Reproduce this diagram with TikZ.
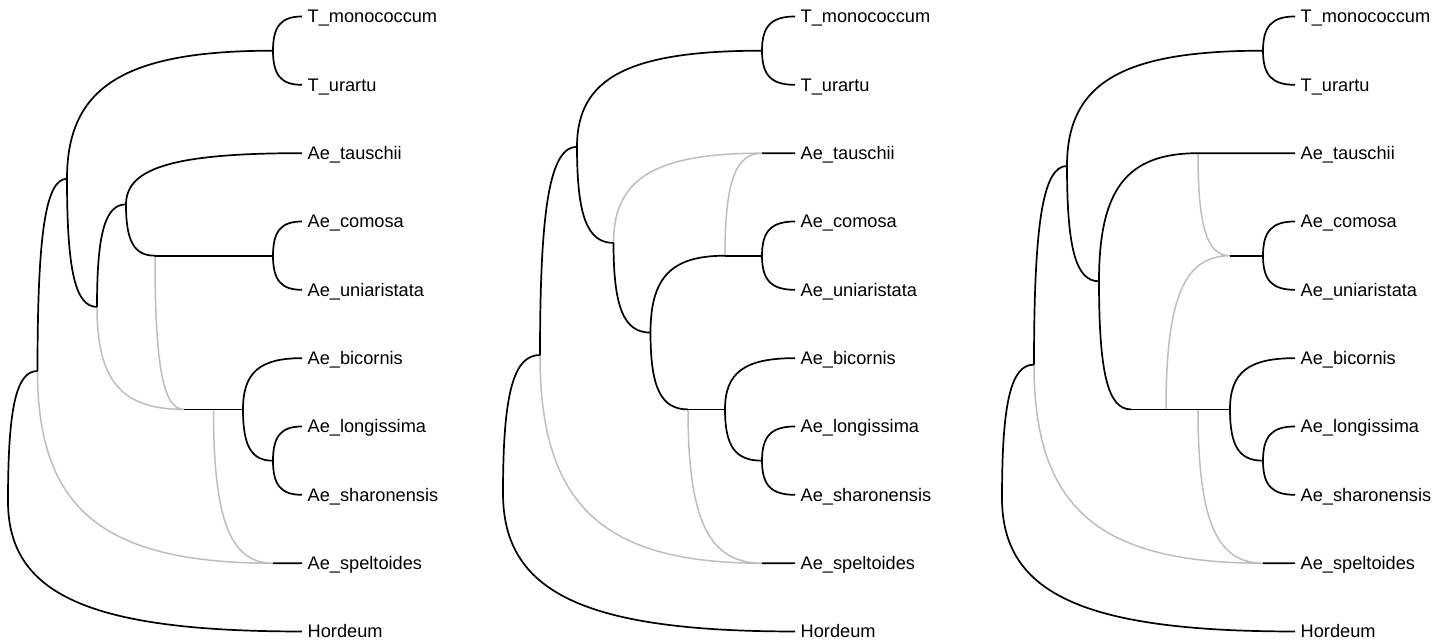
\documentclass[tikz,border=0pt]{standalone}
\usepackage{fontspec}
\setmainfont{Liberation Sans}
\usetikzlibrary{calc}
\definecolor{hybgray}{HTML}{BEBEBE}
\tikzset{
  curv/.style={to path={.. controls ($(\tikztostart)!0.72!(\tikztostart|-\tikztotarget)$) and ($(\tikztotarget)!0.72!(\tikztostart|-\tikztotarget)$) .. (\tikztotarget)}},
  treeedge/.style={draw=black, line width=1.7pt},
  hybedge/.style={draw=hybgray, line width=1.5pt},
  taxon/.style={anchor=base west, inner sep=0pt, xshift=5.5pt, yshift=-6.5pt, font=\fontsize{18.2}{20}\selectfont},
}
\begin{document}
\begin{tikzpicture}[x=1pt,y=-1pt]
\fill[white] (0,0) rectangle (1445,642);
\useasboundingbox (0,0) rectangle (1445,642);

% leaves and labels
\foreach \p/\tx in {1/302,2/795,3/1295}{
  \foreach \i/\nm in {0/T\_monococcum,1/T\_urartu,2/Ae\_tauschii,3/Ae\_comosa,4/Ae\_uniaristata,5/Ae\_bicornis,6/Ae\_longissima,7/Ae\_sharonensis,8/Ae\_speltoides,9/Hordeum}{
    \coordinate (l\p-\i) at (\tx,{16.5+68.33*\i});
    \node[taxon] (lab\p-\i) at (l\p-\i) {\nm};
  }
}

% ---------------- panel 1 ----------------
\coordinate (r1)  at (8,501.2);
\coordinate (n11) at (37.5,371);
\coordinate (n12) at (67,178.8);
\coordinate (n13) at (97,306.9);
\coordinate (n14) at (126,204.4);
\coordinate (p11) at (155,255.7);
\coordinate (h11) at (184,409.4);
\coordinate (p12) at (213.5,409.4);
\coordinate (d1)  at (243,409.4);
\coordinate (a1)  at (273,50.7);
\coordinate (b1)  at (273,255.7);
\coordinate (c1)  at (273,460.7);
\coordinate (h12) at (273,563.2);

\draw[hybedge] (n11) to[curv] (h12) (n13) to[curv] (h11) (p11) to[curv] (h11) (p12) to[curv] (h12);
\draw[treeedge] (r1) to[curv] (n11) (r1) to[curv] (l1-9)
  (n11) to[curv] (n12) (n12) to[curv] (a1) (n12) to[curv] (n13)
  (a1) to[curv] (l1-0) (a1) to[curv] (l1-1)
  (n13) to[curv] (n14) (n14) to[curv] (l1-2) (n14) to[curv] (p11)
  (b1) to[curv] (l1-3) (b1) to[curv] (l1-4)
  (d1) to[curv] (l1-5) (d1) to[curv] (c1)
  (c1) to[curv] (l1-6) (c1) to[curv] (l1-7);
\draw[treeedge] (p11) -- (b1);
\draw[treeedge] (h11) -- (p12) -- (d1);
\draw[treeedge] (h12) -- (l1-8);

% ---------------- panel 2 ----------------
\coordinate (r2)  at (503,493.2);
\coordinate (n21) at (540,355);
\coordinate (n22) at (577,146.8);
\coordinate (n23) at (613.5,242.9);
\coordinate (n24) at (650.5,332.6);
\coordinate (p21) at (725,255.7);
\coordinate (p22) at (688,409.4);
\coordinate (d2)  at (725,409.4);
\coordinate (a2)  at (762,50.7);
\coordinate (b2)  at (762,255.7);
\coordinate (c2)  at (762,460.7);
\coordinate (h21) at (762,153.2);
\coordinate (h22) at (762,563.2);

\draw[hybedge] (n23) to[curv] (h21) (p21) to[curv] (h21) (n21) to[curv] (h22) (p22) to[curv] (h22);
\draw[treeedge] (r2) to[curv] (n21) (r2) to[curv] (l2-9)
  (n21) to[curv] (n22) (n22) to[curv] (a2) (n22) to[curv] (n23)
  (a2) to[curv] (l2-0) (a2) to[curv] (l2-1)
  (n23) to[curv] (n24) (n24) to[curv] (p21) (n24) to[curv] (p22)
  (b2) to[curv] (l2-3) (b2) to[curv] (l2-4)
  (d2) to[curv] (l2-5) (d2) to[curv] (c2)
  (c2) to[curv] (l2-6) (c2) to[curv] (l2-7);
\draw[treeedge] (p21) -- (b2);
\draw[treeedge] (p22) -- (d2);
\draw[treeedge] (h21) -- (l2-2);
\draw[treeedge] (h22) -- (l2-8);

% ---------------- panel 3 ----------------
\coordinate (r3)  at (1002,498);
\coordinate (n31) at (1034,364.6);
\coordinate (n32) at (1067,166);
\coordinate (n33) at (1099,281.3);
\coordinate (x3)  at (1131,409.4);
\coordinate (p31) at (1198,153.2);
\coordinate (p32) at (1166,409.4);
\coordinate (p33) at (1198,409.4);
\coordinate (h31) at (1230,255.7);
\coordinate (d3)  at (1230,409.4);
\coordinate (a3)  at (1263,50.7);
\coordinate (b3)  at (1263,255.7);
\coordinate (c3)  at (1263,460.7);
\coordinate (h32) at (1263,563.2);

\draw[hybedge] (p31) to[curv] (h31) (p32) to[curv] (h31) (n31) to[curv] (h32) (p33) to[curv] (h32);
\draw[treeedge] (r3) to[curv] (n31) (r3) to[curv] (l3-9)
  (n31) to[curv] (n32) (n32) to[curv] (a3) (n32) to[curv] (n33)
  (a3) to[curv] (l3-0) (a3) to[curv] (l3-1)
  (n33) to[curv] (p31) (n33) to[curv] (x3)
  (b3) to[curv] (l3-3) (b3) to[curv] (l3-4)
  (d3) to[curv] (l3-5) (d3) to[curv] (c3)
  (c3) to[curv] (l3-6) (c3) to[curv] (l3-7);
\draw[treeedge] (p31) -- (l3-2);
\draw[treeedge] (x3) -- (p32) -- (p33) -- (d3);
\draw[treeedge] (h31) -- (b3);
\draw[treeedge] (h32) -- (l3-8);
\end{tikzpicture}
\end{document}
